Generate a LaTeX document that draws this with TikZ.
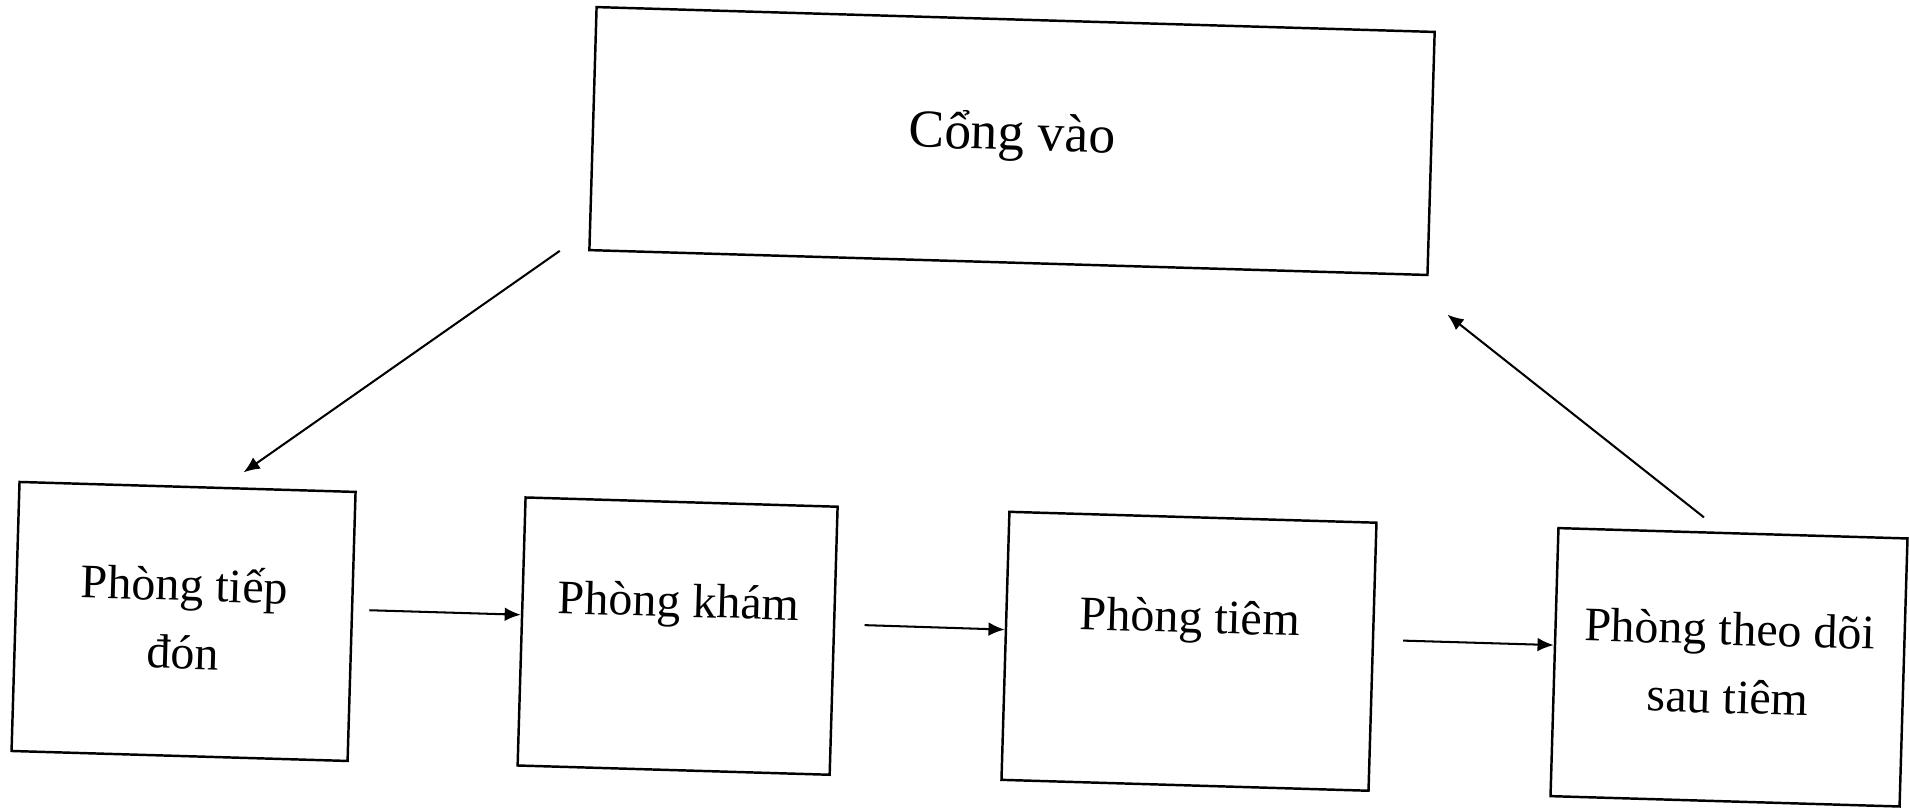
\documentclass[tikz,border=0pt]{standalone}
\usepackage{fontspec}
\setmainfont{Liberation Serif}
\usetikzlibrary{arrows.meta}
\begin{document}
\begin{tikzpicture}[x=0.01cm,y=0.01cm,
  box/.style={draw=black, line width=0.7pt, inner sep=0pt},
  lbl/.style={anchor=base, align=center, inner sep=0pt, font=\fontsize{13.66pt}{19.4pt}\selectfont},
  biglbl/.style={anchor=base, inner sep=0pt, font=\fontsize{15.2pt}{18pt}\selectfont},
  arr/.style={line width=0.58pt, -{Latex[length=4.6pt,width=3.9pt]}}]
\fill[white] (0,0) rectangle (1909,-808);
\useasboundingbox (0,0) rectangle (1909,-808);
\begin{scope}[rotate around={-1.7:(954,-404)}, transform shape]
  % boxes
  \node[box, minimum width=8.38cm, minimum height=2.43cm] (n1) at (1004.2,-139.4) {};
  \node[box, minimum width=3.36cm, minimum height=2.69cm] (n2) at (190.3,-644.2) {};
  \node[box, minimum width=3.12cm, minimum height=2.68cm] (n3) at (684.6,-644.2) {};
  \node[box, minimum width=3.67cm, minimum height=2.68cm] (n4) at (1196.2,-644.2) {};
  \node[box, minimum width=3.49cm, minimum height=2.68cm] (n5) at (1736.5,-644.2) {};
  % texts (base anchor of a two-line node = baseline of its last line)
  \node[biglbl] (t1) at ([shift={(0,-9)}]n1.center) {Cổng vào};
  \node[lbl] (t2) at ([shift={(0,-47.5)}]n2.center) {Phòng tiếp\\đón};
  \node[lbl] (t3) at ([shift={(0,19.3)}]n3.center) {Phòng khám};
  \node[lbl] (t4) at ([shift={(0,18.6)}]n4.center) {Phòng tiêm};
  \node[lbl] (t5) at ([shift={(0,-46)}]n5.center) {Phòng theo dõi\\sau tiêm};
  % free ends of the diagonal connectors
  \coordinate (a1) at ([shift={(-28.3,-0.4)}]n1.south west);
  \coordinate (a2) at ([shift={(55.6,15)}]n2.north);
  \coordinate (b1) at ([shift={(-29.4,13.8)}]n5.north);
  \coordinate (b2) at ([shift={(19.9,-37.8)}]n1.south east);
  % connectors
  \draw[arr] (a1) -- (a2);
  \draw[arr] ([shift={(16,16.7)}]n2.east) -- ([shift={(0,16.7)}]n3.west);
  \draw[arr] ([shift={(29.2,16.5)}]n3.east) -- ([shift={(0,16.2)}]n4.west);
  \draw[arr] ([shift={(29,17)}]n4.east) -- ([shift={(0,17)}]n5.west);
  \draw[arr] (b1) -- (b2);
\end{scope}
\end{tikzpicture}
\end{document}
